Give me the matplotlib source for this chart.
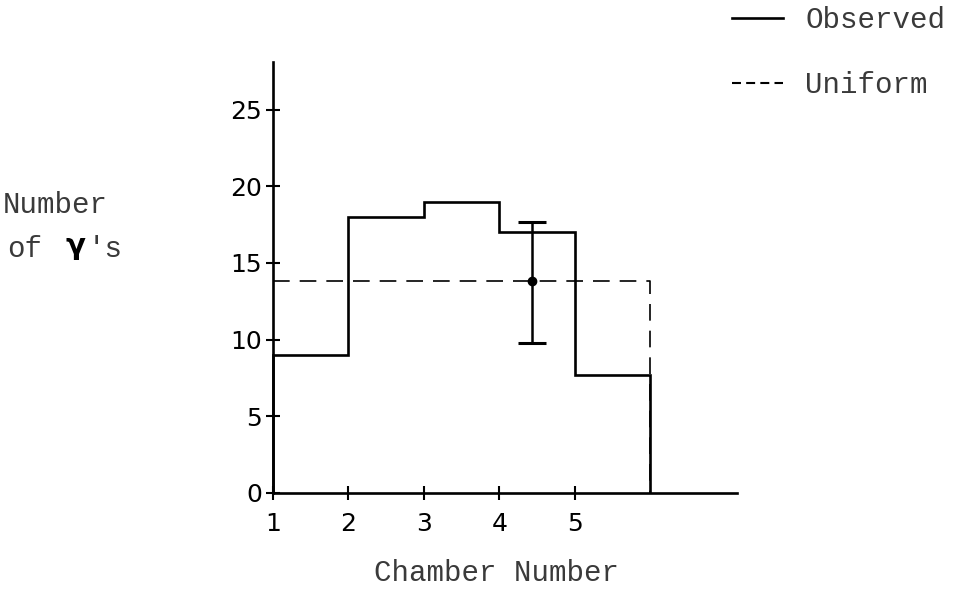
import numpy as np
import matplotlib.pyplot as plt
from matplotlib.lines import Line2D

# chamber bin edges and observed counts per chamber
edges = [1, 2, 3, 4, 5, 6]
observed = [9.0, 18.0, 19.0, 17.0, 7.7]
uniform_level = 13.8

# representative error bar
err_x = 4.43
err_y = 13.8
err_low = 4.0
err_high = 3.85

xticks = [1, 2, 3, 4, 5]
yticks = [0, 5, 10, 15, 20, 25]

W, H = 957, 612
fig = plt.figure(figsize=(W / 100, H / 100), dpi=100)
ax = fig.add_axes([273 / W, 119 / H, 464 / W, 431 / H])
ax.set_xlim(1, 7.15)
ax.set_ylim(0, 28.1)

ax.stairs(observed, edges, baseline=0, color='black', lw=1.9, clip_on=False)
ax.plot([edges[0], edges[-1], edges[-1]], [uniform_level, uniform_level, 0],
        color='black', lw=1.2, ls=(0, (10, 6)), clip_on=False)
ax.errorbar([err_x], [err_y], yerr=[[err_low], [err_high]], fmt='o', ms=6,
            color='black', elinewidth=1.8, capsize=10, capthick=2.2, clip_on=False)

for s in ['top', 'right']:
    ax.spines[s].set_visible(False)
for s in ['left', 'bottom']:
    ax.spines[s].set_linewidth(1.9)

ax.set_xticks(xticks)
ax.set_yticks(yticks)
ax.tick_params(direction='inout', length=10, width=1.5, labelsize=18)
ax.tick_params(axis='x', pad=9)
ax.tick_params(axis='y', pad=3)

mono = 'Liberation Mono'
tcol = '#3a3a3a'
fs = 21
fig.text(3 / W, 1 - 205 / H, 'Number', family=mono, fontsize=fs, color=tcol, va='center')
fig.text(7 / W, 1 - 249 / H, 'of', family=mono, fontsize=fs, color=tcol, va='center')
fig.text(65 / W, 1 - 246 / H, 'γ', family='DejaVu Sans', fontsize=21,
         fontweight='bold', color='black', va='center')
fig.text(88 / W, 1 - 249 / H, "'s", family=mono, fontsize=fs, color=tcol, va='center')
fig.text(496 / W, 1 - 573 / H, 'Chamber Number', family=mono, fontsize=fs,
         color=tcol, ha='center', va='center')

handles = [Line2D([], [], color='black', lw=1.9),
           Line2D([], [], color='black', lw=1.5, ls=(0, (4.3, 2.5)))]
leg = fig.legend(handles, ['Observed', 'Uniform'], loc='upper left',
                 bbox_to_anchor=(712 / W, 1 + 14 / H), frameon=False,
                 prop={'family': mono, 'size': fs}, handlelength=1.75,
                 handletextpad=0.75, labelspacing=1.25, borderpad=0.2)
for t in leg.get_texts():
    t.set_color(tcol)

fig.savefig('out.png', dpi=100)
